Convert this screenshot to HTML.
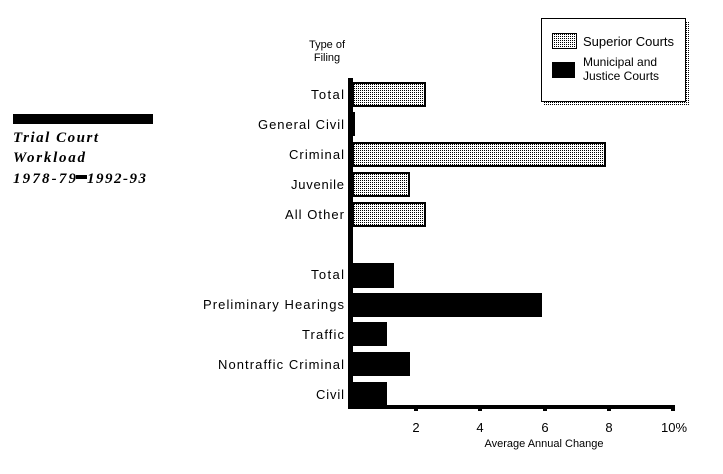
<!DOCTYPE html>
<html><head><meta charset="utf-8"><style>
html,body{margin:0;padding:0;background:#fff;}
svg{display:block;}
text{font-family:"Liberation Sans",sans-serif;font-size:13px;fill:#000;}
.t{font-family:"Liberation Serif",serif;font-style:italic;font-weight:bold;font-size:15px;}
</style></head><body>
<svg width="723" height="474" viewBox="0 0 723 474" xmlns="http://www.w3.org/2000/svg">
<defs>
<pattern id="d" width="2" height="2" patternUnits="userSpaceOnUse">
<rect width="2" height="2" fill="#fff"/><rect width="1" height="1" fill="#000"/>
</pattern>
</defs>
<!-- title -->
<rect x="13" y="114" width="140" height="10" fill="#000"/>
<text class="t" x="13" y="142" textLength="85" lengthAdjust="spacing">Trial Court</text>
<text class="t" x="13" y="162" textLength="72" lengthAdjust="spacing">Workload</text>
<text class="t" x="13" y="183" textLength="63" lengthAdjust="spacing">1978-79</text>
<rect x="76" y="175" width="11" height="4" fill="#000"/>
<text class="t" x="87" y="183" textLength="59" lengthAdjust="spacing">1992-93</text>
<!-- header -->
<text x="327" y="48" text-anchor="middle" style="font-size:11px">Type of</text>
<text x="327" y="61" text-anchor="middle" style="font-size:11px">Filing</text>
<!-- labels -->
<g text-anchor="end">
<text x="344" y="99" textLength="33" lengthAdjust="spacing">Total</text>
<text x="344" y="129" textLength="86" lengthAdjust="spacing">General Civil</text>
<text x="344" y="159" textLength="55" lengthAdjust="spacing">Criminal</text>
<text x="344" y="189" textLength="53" lengthAdjust="spacing">Juvenile</text>
<text x="344" y="219" textLength="59" lengthAdjust="spacing">All Other</text>
<text x="344" y="279" textLength="33" lengthAdjust="spacing">Total</text>
<text x="344" y="309" textLength="141" lengthAdjust="spacing">Preliminary Hearings</text>
<text x="344" y="339" textLength="42" lengthAdjust="spacing">Traffic</text>
<text x="344" y="369" textLength="126" lengthAdjust="spacing">Nontraffic Criminal</text>
<text x="344" y="399" textLength="28" lengthAdjust="spacing">Civil</text>
</g>
<!-- superior bars -->
<g fill="url(#d)" stroke="#000" stroke-width="2">
<rect x="353" y="83" width="72" height="23"/>
<rect x="353" y="143" width="252" height="23"/>
<rect x="353" y="173" width="56" height="23"/>
<rect x="353" y="203" width="72" height="23"/>
</g>
<rect x="352" y="112" width="3" height="24" fill="#000"/>
<!-- municipal bars -->
<g fill="#000">
<rect x="352" y="263" width="42" height="25"/>
<rect x="352" y="293" width="190" height="24"/>
<rect x="352" y="322" width="35" height="24"/>
<rect x="352" y="352" width="58" height="24"/>
<rect x="352" y="382" width="35" height="24"/>
</g>
<!-- axes -->
<rect x="348" y="78" width="5" height="331" fill="#000"/>
<rect x="348" y="405" width="327" height="4" fill="#000"/>
<g fill="#000">
<rect x="414" y="408" width="4" height="3"/>
<rect x="478" y="408" width="4" height="3"/>
<rect x="543" y="408" width="4" height="3"/>
<rect x="607" y="408" width="4" height="3"/>
<rect x="671" y="408" width="4" height="3"/>
</g>
<g text-anchor="middle">
<text x="416" y="432">2</text>
<text x="480" y="432">4</text>
<text x="545" y="432">6</text>
<text x="609" y="432">8</text>
<text x="674" y="432">10%</text>
</g>
<text x="544" y="447" text-anchor="middle" style="font-size:11px">Average Annual Change</text>
<!-- legend -->
<rect x="544" y="21" width="145" height="84" fill="url(#d)"/>
<rect x="541.5" y="18.5" width="144" height="83" fill="#fff" stroke="#000" stroke-width="1"/>
<rect x="552.5" y="33.5" width="24" height="15" fill="url(#d)" stroke="#000"/>
<rect x="552" y="62" width="23" height="16" fill="#000"/>
<text x="583" y="46">Superior Courts</text>
<text x="583" y="66" style="font-size:12px">Municipal and</text>
<text x="583" y="80" style="font-size:12px">Justice Courts</text>
</svg>
</body></html>
